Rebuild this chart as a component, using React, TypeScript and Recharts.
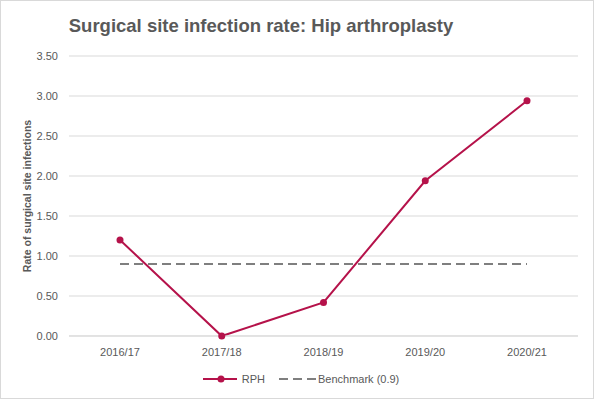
import React from 'react';
import { LineChart, Line, XAxis, YAxis, CartesianGrid, Legend } from 'recharts';

const categories = ['2016/17', '2017/18', '2018/19', '2019/20', '2020/21'];
const rphValues = [1.2, 0.0, 0.42, 1.94, 2.94];
const benchmarkValues = [0.9, 0.9, 0.9, 0.9, 0.9];
const yTicks = [0, 0.5, 1, 1.5, 2, 2.5, 3, 3.5];

const data = categories.map((c, i) => ({ name: c, rph: rphValues[i], bench: benchmarkValues[i] }));

const FONT = '"Liberation Sans", Arial, sans-serif';
const RED = '#b5124a';
const GREY = '#7f7f7f';
const TEXT = '#595959';

const LegendContent = () => (
  <div style={{ display: 'flex', justifyContent: 'center', alignItems: 'center', fontFamily: FONT, fontSize: 11, color: TEXT, height: 20, paddingLeft: 24 }}>
    <svg width={36} height={10} style={{ marginRight: 3 }}>
      <line x1={0} y1={5} x2={34} y2={5} stroke={RED} strokeWidth={2} />
      <circle cx={18} cy={5} r={3.5} fill={RED} />
    </svg>
    <span style={{ marginRight: 14 }}>RPH</span>
    <svg width={37} height={10} style={{ marginRight: 2 }}>
      <line x1={0} y1={5} x2={37} y2={5} stroke={GREY} strokeWidth={2} strokeDasharray="9 5" />
    </svg>
    <span>Benchmark (0.9)</span>
  </div>
);

export default function App() {
  return (
    <div style={{ position: 'absolute', left: 0, top: 0, width: 594, height: 399, border: '1px solid #d9d9d9', boxSizing: 'border-box', background: '#fff' }}>
      <div style={{ position: 'absolute', left: 0, top: 14, width: 520, textAlign: 'center', fontFamily: FONT, fontWeight: 'bold', fontSize: 18.5, color: TEXT }}>
        Surgical site infection rate: Hip arthroplasty
      </div>
      <div style={{ position: 'absolute', left: -1, top: -1 }}>
        <LineChart width={594} height={399} data={data} margin={{ top: 56, right: 16, bottom: 10, left: 0 }}>
          <CartesianGrid vertical={false} stroke="#d9d9d9" />
          <XAxis dataKey="name" tickLine={false} axisLine={{ stroke: '#d9d9d9' }} tickSize={0} tickMargin={12} height={33}
            padding={{ left: 51, right: 51 }}
            tick={{ fill: TEXT, fontSize: 11, fontFamily: FONT }} />
          <YAxis domain={[0, 3.5]} ticks={yTicks} tickFormatter={(v: number) => v.toFixed(2)} tickLine={false} axisLine={false}
            tickSize={0} tickMargin={11} width={69} tick={{ fill: TEXT, fontSize: 11, fontFamily: FONT }}
            label={{ value: 'Rate of surgical site infections', angle: -90, position: 'insideLeft', offset: 0, dx: 27, style: { textAnchor: 'middle', fontFamily: FONT, fontWeight: 'bold', fontSize: 10.5, fill: TEXT } }} />
          <Legend verticalAlign="bottom" height={20} content={<LegendContent />} />
          <Line dataKey="rph" name="RPH" stroke={RED} strokeWidth={2} dot={{ r: 3.5, fill: RED, stroke: RED, strokeWidth: 0 }} isAnimationActive={false} />
          <Line dataKey="bench" name="Benchmark (0.9)" stroke={GREY} strokeWidth={2} strokeDasharray="9 5" dot={false} isAnimationActive={false} />
        </LineChart>
      </div>
    </div>
  );
}
